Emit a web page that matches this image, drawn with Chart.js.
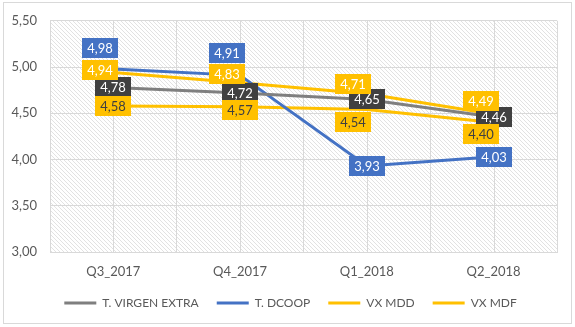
<!DOCTYPE html>
<html>
<head>
<meta charset="utf-8">
<script src="https://cdn.jsdelivr.net/npm/chart.js@4"></script>
<style>
  html, body { margin: 0; padding: 0; background: #fff; }
</style>
</head>
<body>
<canvas id="chart" width="575" height="327"></canvas>
<script>
const quarters = ['Q3_2017', 'Q4_2017', 'Q1_2018', 'Q2_2018'];
const virgenExtra = [4.78, 4.72, 4.65, 4.46];
const dcoop = [4.98, 4.91, 3.93, 4.03];
const vxMdd = [4.94, 4.83, 4.71, 4.49];
const vxMdf = [4.58, 4.57, 4.54, 4.40];
const yTicks = [3.0, 3.5, 4.0, 4.5, 5.0, 5.5];

const FONT = 'Lato, "Liberation Sans", sans-serif';
const GRID = '#d9d9d9';
const TEXT = '#595959';
const fmt = v => v.toFixed(2).replace('.', ',');

// small tile for the striped plot background
function hatchTile() {
  const c = document.createElement('canvas');
  c.width = 4; c.height = 4;
  const g = c.getContext('2d');
  g.fillStyle = '#fff';
  g.fillRect(0, 0, 4, 4);
  g.fillStyle = '#e2e2e2';
  for (let i = 0; i < 4; i++) g.fillRect(i, i, 1, 1);
  return c;
}

const frame = {
  id: 'frame',
  beforeDraw(chart) {
    const { ctx, chartArea: a, width, height } = chart;
    ctx.save();
    ctx.fillStyle = '#fff';
    ctx.fillRect(0, 0, width, height);
    ctx.strokeStyle = GRID;
    ctx.lineWidth = 1;
    ctx.strokeRect(3.5, 2.5, width - 7, height - 6);
    ctx.fillStyle = ctx.createPattern(hatchTile(), 'repeat');
    ctx.fillRect(a.left, a.top, a.right - a.left, a.bottom - a.top);
    ctx.restore();
  },
  // extra vertical lines through each category centre
  beforeDatasetsDraw(chart) {
    const { ctx, chartArea: a, scales: { x } } = chart;
    ctx.save();
    ctx.strokeStyle = GRID;
    ctx.lineWidth = 1;
    quarters.forEach((q, i) => {
      const px = Math.round(x.getPixelForValue(i)) + 0.5;
      ctx.beginPath();
      ctx.moveTo(px, a.top);
      ctx.lineTo(px, a.bottom);
      ctx.stroke();
    });
    ctx.restore();
  },
  // nudge the legend a little right, as in the original
  afterLayout(chart) {
    chart.legend.left += 12;
    chart.legend.right += 12;
  }
};

const valueLabels = {
  id: 'valueLabels',
  afterDatasetsDraw(chart) {
    const { ctx } = chart;
    ctx.save();
    ctx.font = '13px ' + FONT;
    ctx.textAlign = 'center';
    ctx.textBaseline = 'middle';
    chart.data.datasets.forEach((ds, di) => {
      chart.getDatasetMeta(di).data.forEach((pt, i) => {
        const [dx, dy] = ds.labelShift[i];
        const cx = Math.round(pt.x + dx), cy = Math.round(pt.y + dy);
        const text = fmt(ds.data[i]);
        const w = Math.round(ctx.measureText(text).width + 10), h = 20;
        ctx.fillStyle = ds.labelFill;
        ctx.fillRect(cx - w / 2, cy - h / 2, w, h);
        ctx.fillStyle = ds.labelColor;
        ctx.fillText(text, cx, cy + 1);
      });
    });
    ctx.restore();
  }
};

new Chart(document.getElementById('chart'), {
  type: 'line',
  data: {
    labels: quarters,
    datasets: [
      { label: 'T. VIRGEN EXTRA', data: virgenExtra, borderColor: '#7f7f7f', backgroundColor: '#7f7f7f',
        labelFill: '#404040', labelColor: '#fff', labelShift: [[0, 0], [0, 0], [0, 0], [0, 0]] },
      { label: 'T. DCOOP', data: dcoop, borderColor: '#4472c4', backgroundColor: '#4472c4',
        labelFill: '#4472c4', labelColor: '#fff', labelShift: [[-13, -21], [-13, -22], [0, 0], [0, 0]] },
      { label: 'VX MDD', data: vxMdd, borderColor: '#ffc000', backgroundColor: '#ffc000',
        labelFill: '#ffc000', labelColor: '#fff', labelShift: [[-13, -3], [-13, -9], [-14, -10], [-13, -13]] },
      { label: 'VX MDF', data: vxMdf, borderColor: '#ffc000', backgroundColor: '#ffc000',
        labelFill: '#ffc000', labelColor: '#404040', labelShift: [[0, 0], [0, 3], [-14, 12], [-13, 11]] }
    ]
  },
  options: {
    responsive: false,
    animation: false,
    elements: {
      line: { borderWidth: 3, tension: 0 },
      point: { radius: 0, hoverRadius: 0 }
    },
    layout: { autoPadding: false, padding: { top: 16, right: 18, bottom: 8, left: 0 } },
    scales: {
      x: {
        offset: true,
        grid: { color: GRID, drawTicks: false, offset: true },
        border: { color: GRID },
        ticks: { color: TEXT, font: { family: FONT, size: 13 }, padding: 12 },
        afterFit(s) { s.height = 27; }
      },
      y: {
        min: 3, max: 5.5,
        afterBuildTicks(s) { s.ticks = yTicks.map(v => ({ value: v })); },
        grid: { color: GRID, drawTicks: false },
        border: { display: false },
        ticks: { color: TEXT, font: { family: FONT, size: 13 }, padding: 13, callback: v => fmt(v) },
        afterFit(s) { s.width = 50; }
      }
    },
    plugins: {
      legend: {
        position: 'bottom',
        labels: {
          boxWidth: 32, boxHeight: 3, padding: 18, color: TEXT,
          font: { family: FONT, size: 12 },
          generateLabels(chart) {
            return Chart.defaults.plugins.legend.labels.generateLabels(chart)
              .map(item => Object.assign(item, { lineWidth: 0 }));
          }
        }
      },
      tooltip: { enabled: false }
    }
  },
  plugins: [frame, valueLabels]
});
</script>
</body>
</html>
